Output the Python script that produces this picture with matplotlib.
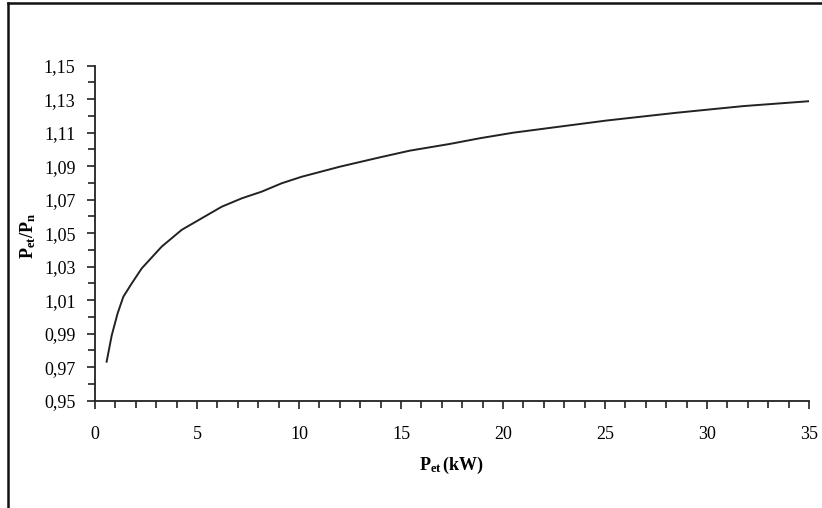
import numpy as np
import matplotlib.pyplot as plt
from matplotlib.ticker import MultipleLocator, FixedLocator, FuncFormatter
from matplotlib.lines import Line2D

plt.rcParams['font.family'] = ['Liberation Serif', 'DejaVu Serif']
plt.rcParams['mathtext.fontset'] = 'custom'
plt.rcParams['mathtext.rm'] = 'Liberation Serif:bold'
plt.rcParams['mathtext.it'] = 'Liberation Serif:bold'
plt.rcParams['mathtext.bf'] = 'Liberation Serif:bold'

# values
p_et = [0.57, 0.82, 1.11, 1.39, 1.80, 2.29, 3.27, 4.25, 5.23, 6.21, 7.19, 8.17,
        9.15, 10.13, 12.0, 13.97, 15.44, 17.4, 18.87, 20.5, 22.7, 25.1, 28.5,
        31.8, 35.0]
ratio = [0.9733, 0.989, 1.0022, 1.0121, 1.020, 1.029, 1.042, 1.052, 1.0589,
         1.0658, 1.0708, 1.0748, 1.0798, 1.0837, 1.0897, 1.0953, 1.0993,
         1.1033, 1.1067, 1.1100, 1.1135, 1.1173, 1.1219, 1.1259, 1.1288]
y_ticks = [0.95, 0.97, 0.99, 1.01, 1.03, 1.05, 1.07, 1.09, 1.11, 1.13, 1.15]

W, H = 822, 508
fig = plt.figure(figsize=(W / 100, H / 100), dpi=100)
ax = fig.add_axes([95 / W, (H - 400.7) / H, (809 - 95) / W, (400.7 - 65.7) / H])

ax.plot(p_et, ratio, color='#222222', lw=1.4)

ax.set_xlim(0, 35)
ax.set_ylim(0.95, 1.15)
ax.xaxis.set_major_locator(MultipleLocator(5))
ax.xaxis.set_minor_locator(MultipleLocator(1))
ax.yaxis.set_major_locator(FixedLocator(y_ticks))
ax.yaxis.set_minor_locator(MultipleLocator(0.01))
ax.yaxis.set_major_formatter(FuncFormatter(lambda v, p: f'{v:.2f}'.replace('.', ',')))

for s in ['top', 'right']:
    ax.spines[s].set_visible(False)
for s in ['left', 'bottom']:
    ax.spines[s].set_linewidth(1.3)
    ax.spines[s].set_color('#222222')
ax.tick_params(which='major', length=6, width=1.2, color='#222222', labelsize=13, pad=8)
ax.tick_params(which='minor', length=5, width=1.2, color='#222222')
ax.tick_params(axis='x', pad=12)

fig.text(452 / W, 1 - 465 / H, r'$\mathrm{P_{et}\,(kW)}$', ha='center', va='center', fontsize=13)
fig.text(28 / W, 1 - 236 / H, r'$\mathrm{P_{et}/P_{n}}$', ha='center', va='center',
         fontsize=13, rotation=90)

# page frame (top and left edges visible)
fig.add_artist(Line2D([8 / W, 8 / W], [0, 1 - 3 / H], color='#111111', lw=1.8))
fig.add_artist(Line2D([8 / W, 1], [1 - 3 / H, 1 - 3 / H], color='#111111', lw=1.8))

fig.savefig('out.png', dpi=100)
